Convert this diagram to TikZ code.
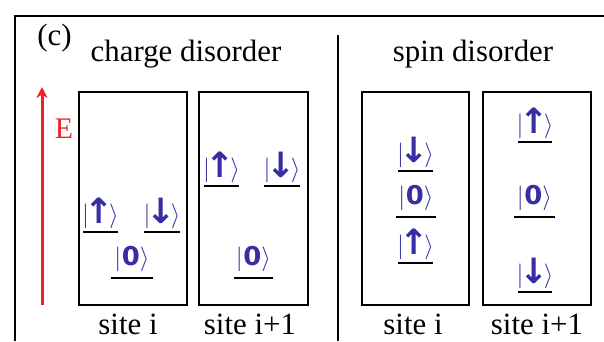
\documentclass[tikz,border=0pt]{standalone}
\usepackage{fontspec}
\setmainfont{Liberation Serif}
\newfontfamily\kfont{DejaVu Sans}
\usetikzlibrary{arrows.meta}
\definecolor{ketblue}{RGB}{55,45,165}
\definecolor{ered}{RGB}{235,35,45}
\newcommand{\kta}[1]{\fontsize{30}{30}\selectfont$|$\kern-4.5pt{\kfont\bfseries\fontsize{35}{35}\selectfont\raisebox{-1pt}{#1}}\kern-4.5pt$\rangle$}
\newcommand{\ktz}{\fontsize{30}{30}\selectfont$|$\kern0.5pt{\kfont\bfseries\fontsize{26}{26}\selectfont 0}\kern0pt$\rangle$}
\newcommand{\lev}[5]{%
  \draw[lvl] (#2-#4,#3) -- (#2+#4,#3);
  \node[ket] (#1) at (#2,#3-19) {#5};}
\begin{document}
\begin{tikzpicture}[x=1bp,y=-1bp,
  lvl/.style={line width=1.7bp},
  box/.style={draw,line width=1.6bp},
  ket/.style={text=ketblue,inner sep=0pt},
  lab/.style={font=\fontsize{31}{31}\selectfont,inner sep=0pt,anchor=base}]
\useasboundingbox (0,0) rectangle (604,341);
\fill[white] (0,0) rectangle (604,341);
% frame and divider
\draw[line width=1.8bp] (15,341) -- (15,16) -- (604,16);
\draw[line width=1.6bp] (338,35) -- (338,341);
% titles
\node[lab] (c) at (54.5,45) {(c)};
\node[lab] (t1) at (186,61) {charge disorder};
\node[lab] (t2) at (473,61) {spin disorder};
% energy arrow
\coordinate (ea) at (42,305);
\coordinate (eb) at (42,87);
\draw[ered,line width=3bp,-{Stealth[length=11bp,width=11bp]}] (ea) -- (eb);
\node[text=ered,font=\fontsize{30}{30}\selectfont,inner sep=0pt] (E) at (64,129) {E};
% boxes
\draw[box] (79,92) rectangle (187,305);
\draw[box] (199,92) rectangle (308,305);
\draw[box] (362,92) rectangle (469,305);
\draw[box] (483,92) rectangle (591,305);
% levels
\lev{a1}{100.5}{232}{17.5}{\kta{↑}}
\lev{a2}{162}{232}{18}{\kta{↓}}
\lev{a3}{132}{278}{21}{\ktz}
\lev{b1}{221.5}{186}{17.5}{\kta{↑}}
\lev{b2}{282}{186}{18}{\kta{↓}}
\lev{b3}{253.5}{278}{19.5}{\ktz}
\lev{c1}{415.5}{171}{17.5}{\kta{↓}}
\lev{c2}{416}{217}{20}{\ktz}
\lev{c3}{415.5}{263}{17.5}{\kta{↑}}
\lev{d1}{535}{142}{17}{\kta{↑}}
\lev{d2}{534.5}{217}{20.5}{\ktz}
\lev{d3}{535}{292}{17}{\kta{↓}}
% site labels
\node[lab] (s1) at (128,334) {site i};
\node[lab] (s2) at (250,334) {site i+1};
\node[lab] (s3) at (413,334) {site i};
\node[lab] (s4) at (537,334) {site i+1};
\end{tikzpicture}
\end{document}
